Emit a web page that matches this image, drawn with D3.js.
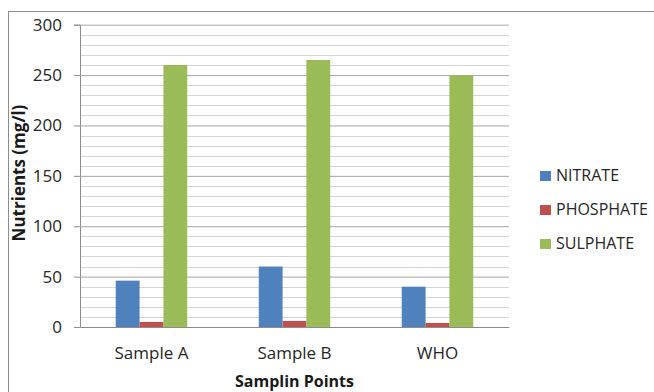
<!DOCTYPE html>
<html>
<head>
<meta charset="utf-8">
<script src="https://cdn.jsdelivr.net/npm/d3@7"></script>
<style>
  html, body { margin: 0; padding: 0; background: #fff; }
  svg { display: block; font-family: "Open Sans", "Liberation Sans", sans-serif; }
</style>
</head>
<body>
<svg id="chart" width="654" height="392"></svg>
<script>
// Nutrient concentrations (mg/l) at each sampling point
const categories = ["Sample A", "Sample B", "WHO"];
const seriesNames = ["NITRATE", "PHOSPHATE", "SULPHATE"];
const nitrate   = [46, 60, 40];
const phosphate = [5, 6, 4];
const sulphate  = [260, 265, 250];
const yTicks = [0, 50, 100, 150, 200, 250, 300];
const colors = ["#4f81bd", "#c0504d", "#9bbb59"];

const seriesValues = [nitrate, phosphate, sulphate];

const svg = d3.select("#chart");
const W = 654, H = 392;
const plot = { left: 80, right: 509, top: 24.7, bottom: 327 };

// outer chart frame
svg.append("rect")
  .attr("x", 8.5).attr("y", 11.5)
  .attr("width", W + 10).attr("height", H + 10)
  .attr("fill", "none").attr("stroke", "#8c8c8c").attr("stroke-width", 1);

const x = d3.scaleBand().domain(categories).range([plot.left, plot.right]).paddingInner(0).paddingOuter(0);
const y = d3.scaleLinear().domain([0, 300]).range([plot.bottom, plot.top]);
// three bars fill half of each category slot
const groupW = x.bandwidth() * 0.5;
const xs = d3.scaleBand().domain(seriesNames).range([0, groupW]);

// minor gridlines every 10
const minor = d3.range(10, 300, 10).filter(v => v % 50 !== 0);
svg.append("g").selectAll("line").data(minor).join("line")
  .attr("x1", plot.left).attr("x2", plot.right)
  .attr("y1", d => Math.round(y(d)) + 0.5).attr("y2", d => Math.round(y(d)) + 0.5)
  .attr("stroke", "#d4d4d4").attr("stroke-width", 1);

// major gridlines and left axis with ticks
const yAxis = d3.axisLeft(y).tickValues(yTicks).tickSize(6).tickPadding(12).tickFormat(d3.format("d"));
const gy = svg.append("g").attr("transform", `translate(${plot.left},0)`).call(yAxis);
gy.select(".domain").attr("stroke", "#8c8c8c");
gy.selectAll(".tick line").attr("stroke", "#8c8c8c");
gy.selectAll(".tick text").attr("fill", "#262626").style("font-size", "17px")
  .attr("font-family", "Open Sans, sans-serif");
svg.append("g").selectAll("line").data(yTicks.filter(v => v > 0)).join("line")
  .attr("x1", plot.left).attr("x2", plot.right)
  .attr("y1", d => y(d)).attr("y2", d => y(d))
  .attr("stroke", "#a6a6a6").attr("stroke-width", 1)
  .attr("transform", "translate(0,0.5)");

// bars
const groups = svg.append("g").selectAll("g").data(categories).join("g")
  .attr("transform", d => `translate(${x(d) + (x.bandwidth() - groupW) / 2},0)`);
groups.selectAll("rect")
  .data((c, i) => seriesNames.map((s, j) => ({ s, v: seriesValues[j][i], c: colors[j] })))
  .join("rect")
  .attr("x", d => xs(d.s)).attr("width", xs.bandwidth())
  .attr("y", d => y(d.v)).attr("height", d => y(0) - y(d.v))
  .attr("fill", d => d.c);

// category axis
const xAxis = d3.axisBottom(x).tickSize(0).tickPadding(20);
const gx = svg.append("g").attr("transform", `translate(0,${plot.bottom})`).call(xAxis);
gx.select(".domain").attr("stroke", "#8c8c8c");
gx.selectAll(".tick text").attr("fill", "#262626").style("font-size", "17px")
  .attr("font-family", "Open Sans, sans-serif");

// axis titles
svg.append("text")
  .attr("x", (plot.left + plot.right) / 2).attr("y", 387)
  .attr("text-anchor", "middle").attr("font-weight", "bold")
  .style("font-size", "16px").attr("fill", "#1a1a1a")
  .text("Samplin Points");
svg.append("text")
  .attr("transform", `translate(25,${173}) rotate(-90)`)
  .attr("text-anchor", "middle").attr("font-weight", "bold")
  .style("font-size", "17px").attr("fill", "#1a1a1a")
  .text("Nutrients (mg/l)");

// legend
const legend = svg.append("g").selectAll("g").data(seriesNames).join("g")
  .attr("transform", (d, i) => `translate(540,${171 + i * 34})`);
legend.append("rect").attr("width", 11).attr("height", 10)
  .attr("fill", (d, i) => colors[i]);
legend.append("text").attr("x", 16).attr("y", 10)
  .style("font-size", "16px").attr("fill", "#262626")
  .text(d => d);
</script>
</body>
</html>
